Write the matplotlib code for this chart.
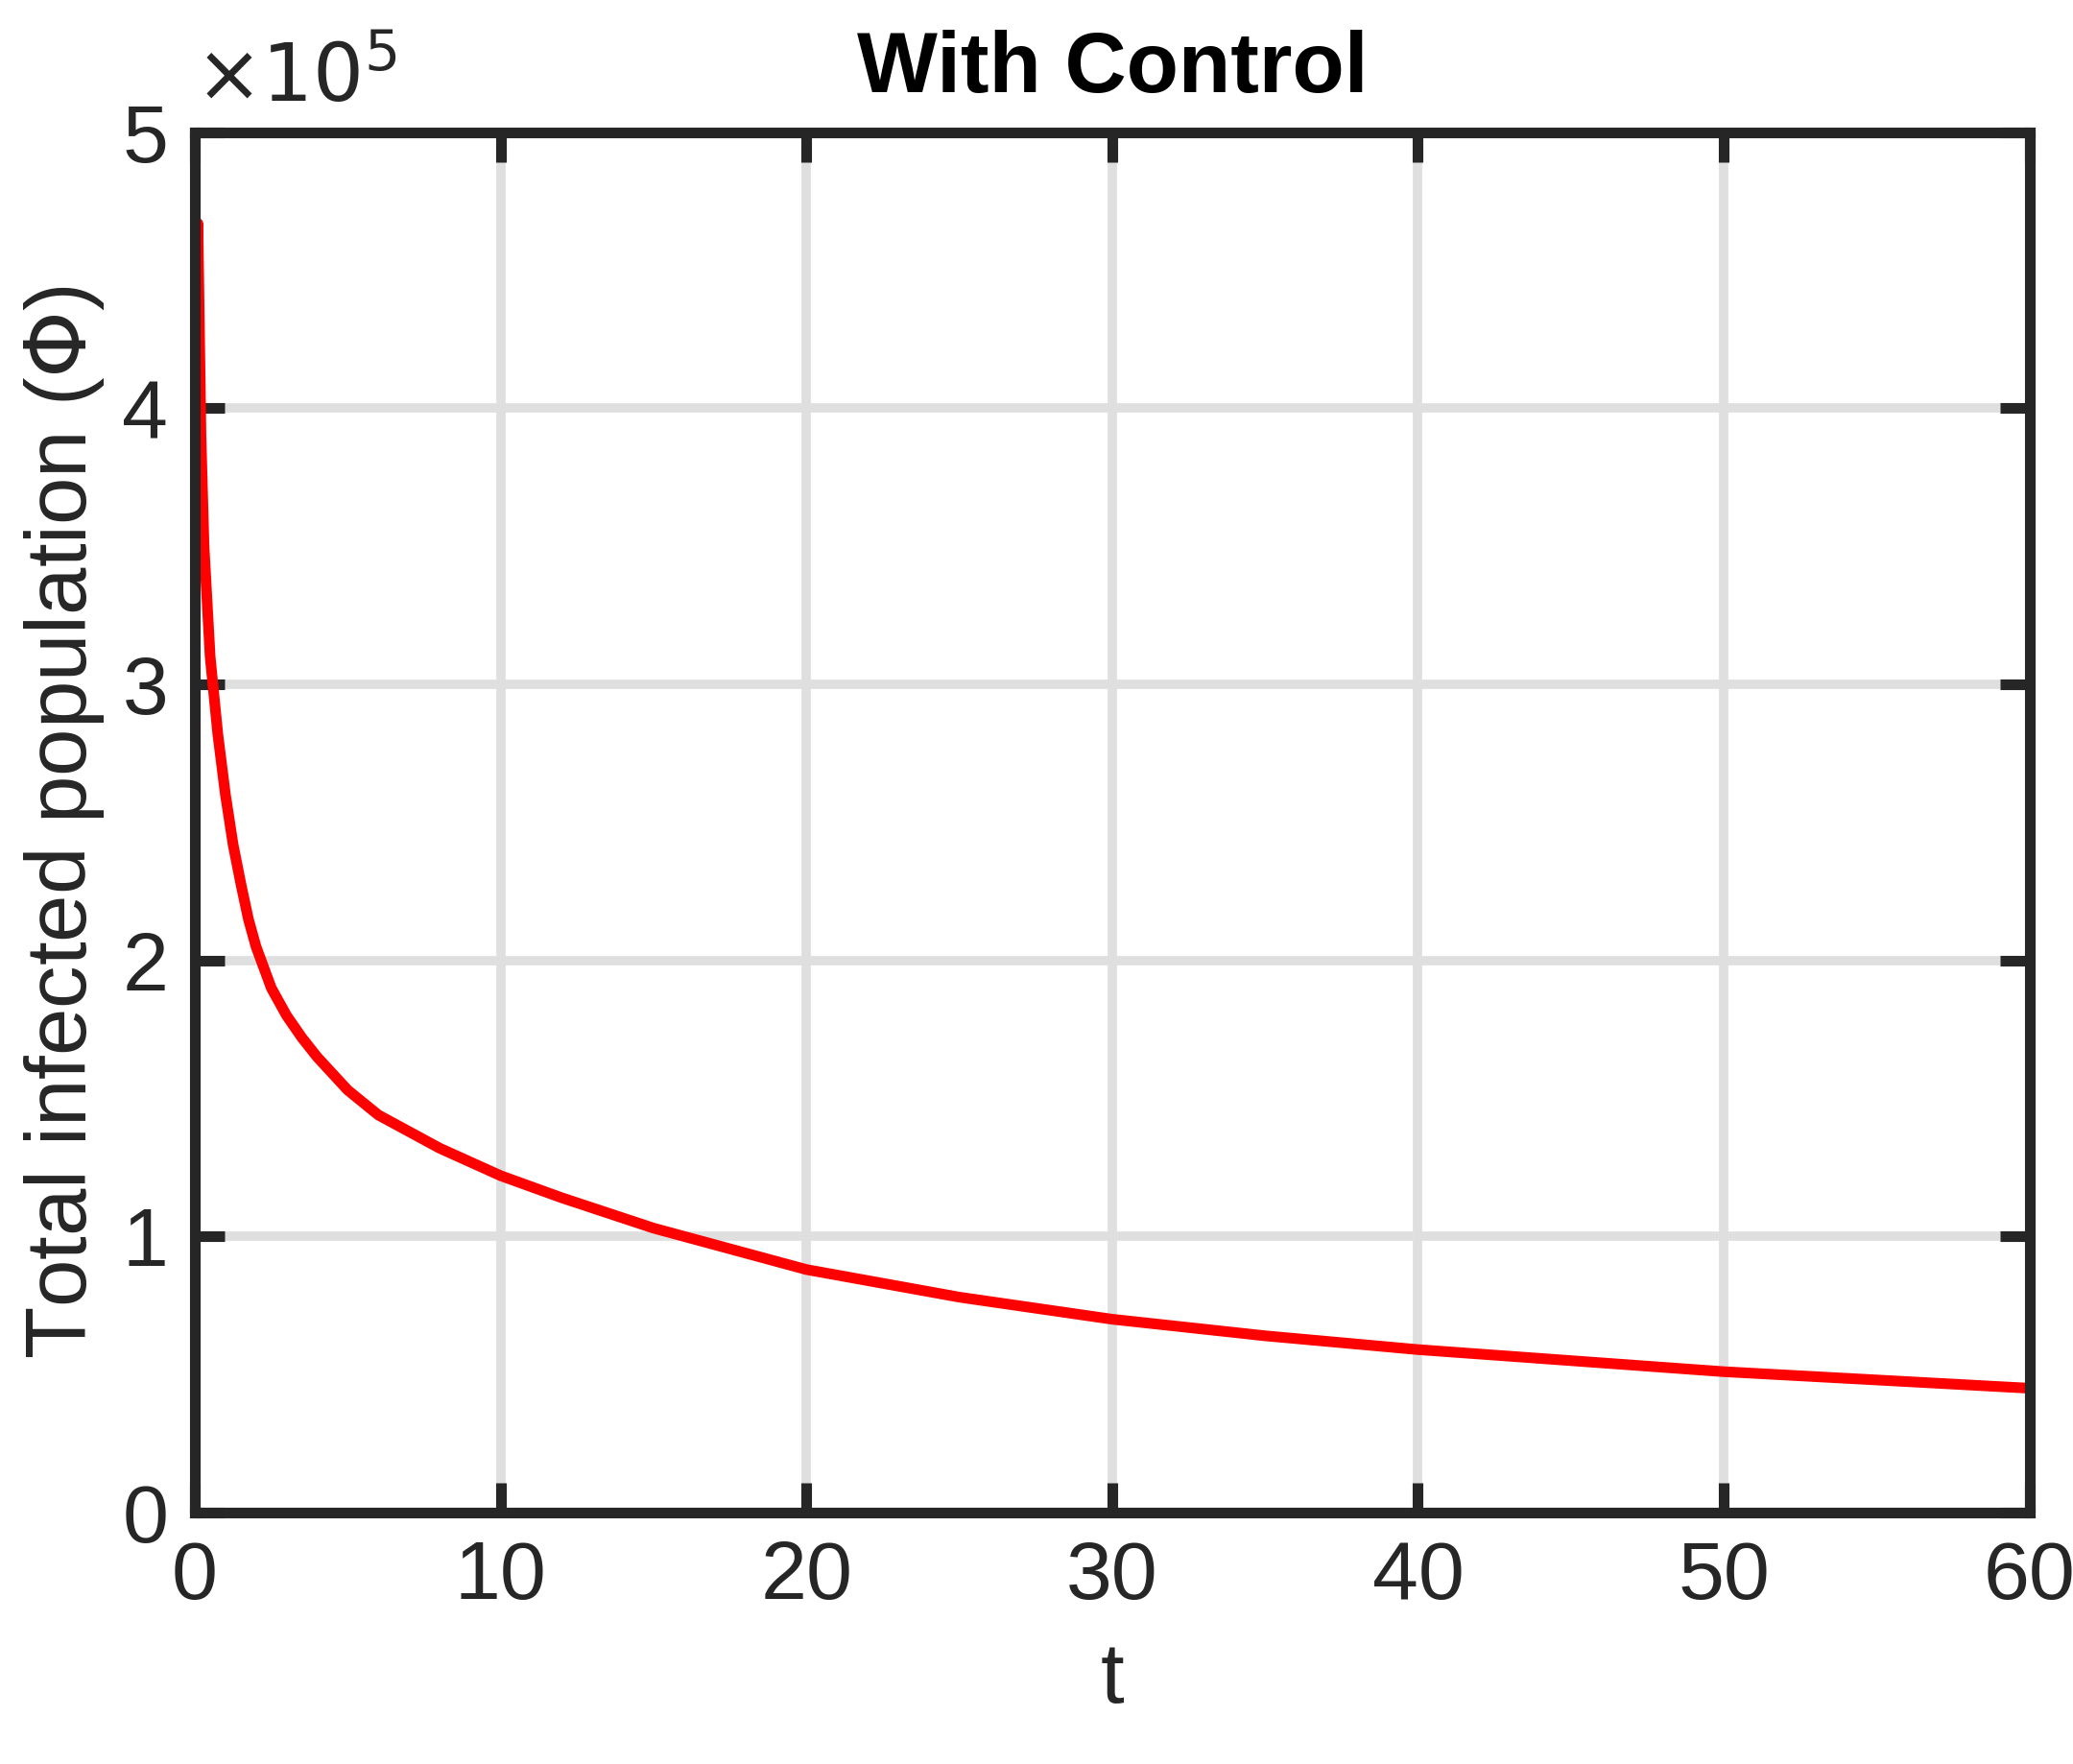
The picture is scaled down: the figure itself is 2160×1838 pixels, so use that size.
import numpy as np
import matplotlib
matplotlib.use("Agg")
import matplotlib.pyplot as plt

# Values (units of 1e5)
t_vals = [0, 0.05, 0.1, 0.2, 0.3, 0.5, 0.75, 1, 1.25, 1.5, 1.75, 2, 2.5, 3, 3.5, 4,
          5, 6, 7, 8, 10, 12, 15, 20, 25, 30, 35, 40, 45, 50, 55, 60]
phi_vals = [3.3, 4.3, 4.67, 3.9, 3.5, 3.1, 2.82, 2.6, 2.42, 2.28, 2.15, 2.05, 1.9,
            1.8, 1.72, 1.65, 1.53, 1.44, 1.38, 1.32, 1.22, 1.14, 1.03, 0.88, 0.78,
            0.70, 0.64, 0.59, 0.55, 0.51, 0.48, 0.45]
x_ticks = [0, 10, 20, 30, 40, 50, 60]
y_ticks = [0, 1, 2, 3, 4, 5]

DARK = "#262626"
plt.rcParams['font.family'] = ['Liberation Sans', 'DejaVu Sans']

fig = plt.figure(figsize=(21.6, 18.38), dpi=100)
ax = fig.add_axes([0.094, 0.1426, 0.885, 0.7824])
ax.plot(t_vals, phi_vals, color="red", lw=8, solid_joinstyle="round")

ax.set_xlim(0, 60)
ax.set_ylim(0, 5)
ax.set_xticks(x_ticks)
ax.set_yticks(y_ticks)
ax.grid(True, color="#dfdfdf", lw=7)
ax.set_axisbelow(True)
for s in ax.spines.values():
    s.set_color(DARK)
    s.set_linewidth(8)
ax.tick_params(direction="in", length=22, width=8, color=DARK, labelcolor=DARK,
               labelsize=62, top=True, right=True, pad=20)

ax.set_xlabel("t", fontsize=64, color=DARK, labelpad=18)
ax.set_ylabel(r"Total infected population ($\Phi$)", fontsize=64, color=DARK, labelpad=12)
ax.set_title("With Control", fontsize=64, fontweight="bold", pad=30)
ax.text(0.0, 1.01, r"$\times10^5$", transform=ax.transAxes, fontsize=60,
        color=DARK, ha="left", va="bottom")

fig.savefig("out.png", dpi=100)
